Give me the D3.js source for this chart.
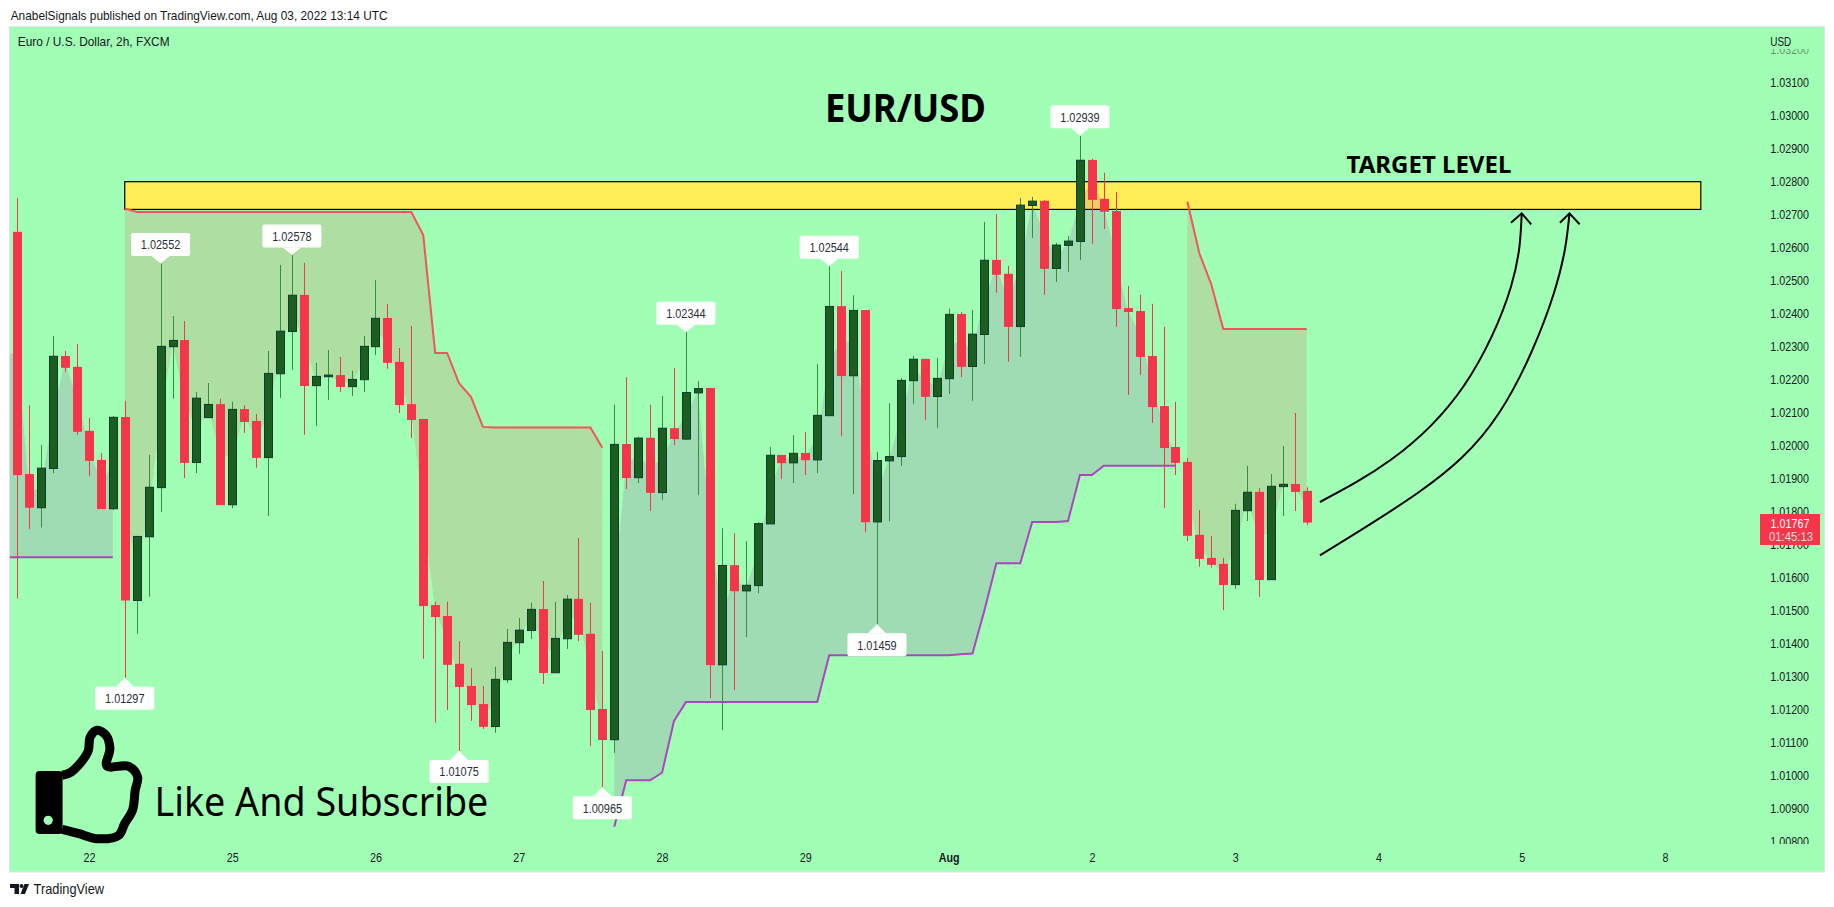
<!DOCTYPE html>
<html>
<head>
<meta charset="utf-8">
<script src="https://cdn.jsdelivr.net/npm/d3@7/dist/d3.min.js"></script>
<style>
html,body{margin:0;padding:0;background:#fff;overflow:hidden}
svg{display:block}
text{font-family:"Liberation Sans",Arial,sans-serif}
</style>
</head>
<body>
<svg id="chart" width="1834" height="907"></svg>
<script>
// ---------- data ----------
const opens = [
1.02648,1.01914,1.01812,1.01931,1.02272,1.02239,1.02045,1.01957,1.01809,1.02087,
1.01531,1.01724,1.01873,1.02300,1.02320,1.01949,1.02085,1.02126,1.01821,1.02111,
1.02075,1.01964,1.02218,1.02346,1.02457,1.02182,1.02209,1.02214,1.02179,1.02200,
1.02300,1.02387,1.02254,1.02126,1.02081,1.01517,1.01484,1.01339,1.01272,1.01217,
1.01149,1.01291,1.01403,1.01440,1.01505,1.01312,1.01415,1.01536,1.01430,1.01202,
1.01109,1.02005,1.01903,1.02024,1.01858,1.02053,1.02020,1.02160,1.02175,1.01336,
1.01638,1.01560,1.01576,1.01763,1.01972,1.01948,1.01978,1.01957,1.02091,1.02423,
1.02212,1.02411,1.01769,1.01954,1.01967,1.02197,1.02263,1.02149,1.02203,1.02399,
1.02240,1.02337,1.02563,1.02521,1.02361,1.02728,1.02742,1.02537,1.02607,1.02619,
1.02866,1.02748,1.02711,1.02417,1.02408,1.02272,1.02120,1.01996,1.01951,1.01730,
1.01660,1.01642,1.01579,1.01803,1.01860,1.01594,1.01876,1.01884,1.01863];
const highs = [
1.02751,1.02123,1.02002,1.02333,1.02287,1.02308,1.02084,1.01978,1.02090,1.02136,
1.01725,1.01972,1.02552,1.02393,1.02378,1.02163,1.02190,1.02142,1.02133,1.02123,
1.02096,1.02287,1.02548,1.02578,1.02554,1.02251,1.02290,1.02269,1.02227,1.02333,
1.02502,1.02430,1.02296,1.02363,1.02081,1.01527,1.01527,1.01408,1.01326,1.01272,
1.01330,1.01445,1.01478,1.01524,1.01590,1.01527,1.01548,1.01720,1.01524,1.01378,
1.02124,1.02208,1.02027,1.02124,1.02151,1.02235,1.02344,1.02196,1.02175,1.01750,
1.01735,1.01711,1.01768,1.01996,1.01972,1.02032,1.02041,1.02247,1.02544,1.02529,
1.02456,1.02411,1.01981,1.02129,1.02205,1.02272,1.02263,1.02266,1.02415,1.02405,
1.02411,1.02678,1.02702,1.02545,1.02751,1.02754,1.02745,1.02615,1.02636,1.02939,
1.02869,1.02827,1.02769,1.02484,1.02457,1.02430,1.02360,1.02133,1.01963,1.01805,
1.01727,1.01660,1.01824,1.01939,1.01872,1.01914,1.01999,1.02099,1.01874];
const lows = [
1.01537,1.01748,1.01752,1.01917,1.02224,1.02033,1.01908,1.01808,1.01805,1.01297,
1.01430,1.01542,1.01799,1.02142,1.01902,1.01917,1.02085,1.01820,1.01811,1.02039,
1.01933,1.01787,1.02145,1.02230,1.02033,1.02060,1.02139,1.02163,1.02151,1.02163,
1.02275,1.02233,1.02099,1.02023,1.01354,1.01161,1.01199,1.01075,1.01166,1.01142,
1.01130,1.01281,1.01369,1.01414,1.01278,1.01312,1.01384,1.01408,1.01090,1.00965,
1.01069,1.01869,1.01887,1.01802,1.01836,1.02002,1.02017,1.01850,1.01235,1.01138,
1.01259,1.01420,1.01553,1.01763,1.01899,1.01887,1.01911,1.01917,1.02091,1.02029,
1.01853,1.01738,1.01459,1.01771,1.01939,1.02127,1.02078,1.02054,1.02157,1.02208,
1.02136,1.02248,1.02463,1.02254,1.02269,1.02630,1.02457,1.02496,1.02527,1.02563,
1.02612,1.02657,1.02360,1.02154,1.02214,1.02069,1.01811,1.01911,1.01711,1.01633,
1.01630,1.01502,1.01566,1.01772,1.01542,1.01594,1.01787,1.01802,1.01760];
const closes = [
1.01911,1.01812,1.01932,1.02271,1.02236,1.02042,1.01954,1.01808,1.02086,1.01531,
1.01725,1.01874,1.02301,1.02319,1.01948,1.02144,1.02125,1.01820,1.02110,1.02072,
1.01963,1.02219,1.02347,1.02456,1.02181,1.02210,1.02214,1.02178,1.02201,1.02301,
1.02386,1.02251,1.02123,1.02078,1.01514,1.01481,1.01336,1.01269,1.01214,1.01148,
1.01292,1.01404,1.01441,1.01504,1.01311,1.01416,1.01535,1.01427,1.01199,1.01108,
1.02004,1.01902,1.02023,1.01857,1.02053,1.02020,1.02161,1.02173,1.01335,1.01637,
1.01559,1.01577,1.01764,1.01971,1.01947,1.01977,1.01956,1.02092,1.02422,1.02211,
1.02410,1.01768,1.01955,1.01967,1.02198,1.02262,1.02148,1.02204,1.02398,1.02239,
1.02338,1.02562,1.02518,1.02360,1.02729,1.02741,1.02536,1.02608,1.02620,1.02865,
1.02745,1.02709,1.02414,1.02405,1.02269,1.02117,1.01993,1.01948,1.01727,1.01657,
1.01639,1.01578,1.01804,1.01859,1.01593,1.01877,1.01883,1.01860,1.01767];

// trailing-stop indicator: one list per stretch, first bar index beside it
const purpleStartA = -1;
const purpleLevelsA = [1.01662,1.01662,1.01662,1.01662,1.01662,1.01662,1.01662,1.01662,1.01662,1.01662];
const redStartA = 9;
const redLevelsA = [1.02719,
1.02708,1.02708,1.02708,1.02708,1.02708,1.02708,1.02708,1.02708,1.02708,1.02708,1.02708,1.02708,
1.02708,1.02708,1.02708,1.02708,1.02708,1.02708,1.02708,1.02708,1.02708,1.02708,1.02708,1.02708,
1.02638,1.02281,1.02281,1.02189,1.02148,1.02057,
1.02055,1.02055,1.02055,1.02055,1.02055,1.02055,1.02055,1.02055,1.02055,1.01994];
const purpleStartB = 50;
const purpleLevelsB = [1.00845,1.00986,1.00986,1.00986,1.01009,1.01166,
1.01223,1.01223,1.01223,1.01223,1.01223,1.01223,1.01223,1.01223,1.01223,1.01223,1.01223,1.01223,
1.01365,1.01365,1.01365,1.01365,1.01365,1.01365,1.01365,1.01365,1.01365,1.01365,1.01365,
1.01368,1.01370,1.01501,1.01644,1.01644,1.01644,1.01769,1.01769,1.01769,1.01772,1.01911,1.01911,
1.01939,1.01939,1.01939,1.01939,1.01939,1.01939,1.01939];
const redStartB = 98;
const redLevelsB = [1.02739,1.02583,1.02489,1.02354,1.02354,1.02354,1.02354,1.02354,1.02354,1.02354,1.02354];

// price callouts: bar indices that carry a label
const highCallouts = [12,23,56,68,89];
const lowCallouts = [9,37,49,72];

// x axis
const dayTickBars = [6,18,30,42,54,66,78,90,102,114,126,138];
const dayLabels = ["22","25","26","27","28","29","Aug","2","3","4","5","8"];
// y axis
const priceTicks = [1.032,1.031,1.030,1.029,1.028,1.027,1.026,1.025,1.024,1.023,1.022,1.021,1.020,
1.019,1.018,1.017,1.016,1.015,1.014,1.013,1.012,1.011,1.010,1.009,1.008];

// target zone and hand-drawn arrows, [bar index, price]
const targetZone = {fromBar:9,toBar:141,top:1.0280,bottom:1.02716};
const arrowOne = [[109.1,1.018294],[115.1,1.019588],[121.1,1.021788],[125.1,1.024818],[126.0,1.027042]];
const arrowOneHead = [[125.1,1.026758],[126.0,1.027042],[126.8,1.026709]];
const arrowTwo = [[109.1,1.016679],[117.4,1.018597],[124.1,1.020991],[128.7,1.024627],[130.0,1.027042]];
const arrowTwoHead = [[129.2,1.026758],[130.0,1.027042],[130.85,1.026709]];

// ---------- scales ----------
const x = d3.scaleLinear().domain([0,108]).range([17.3,1306.8]);
const y = d3.scaleLinear().domain([1.008,1.032]).range([841.7,49.7]);

const UP_BODY="#1B5E20", UP_EDGE="#0D3B2E", UP_WICK="#388E3C", DOWN="#F5364A";
const svg = d3.select("#chart");

function fitted(parent,str,px,py,size,width,opt={}){
  const t = parent.append("text").text(str)
    .attr("font-size",size)
    .attr("font-weight",opt.weight||400)
    .attr("fill",opt.fill||"#131722")
    .attr("text-anchor",opt.anchor||"start");
  if(opt.family) t.style("font-family",opt.family);
  if(opt.opacity) t.attr("opacity",opt.opacity);
  const sx = width/t.node().getComputedTextLength();
  t.attr("transform",`translate(${px},${py}) scale(${sx},1)`);
  return t;
}

// ---------- frame ----------
const defs = svg.append("defs");
defs.append("clipPath").attr("id","plot").append("rect").attr("x",10).attr("y",27).attr("width",1750).attr("height",845);
defs.append("clipPath").attr("id","scale").append("rect").attr("x",1740).attr("y",49).attr("width",90).attr("height",795);

svg.append("rect").attr("x",9.5).attr("y",26.5).attr("width",1815).attr("height",845.5)
  .attr("fill","#A0FFB4").attr("stroke","#E0E3EB");

const plot = svg.append("g").attr("clip-path","url(#plot)");

// target zone
plot.append("rect")
  .attr("x",x(targetZone.fromBar)).attr("y",y(targetZone.top))
  .attr("width",x(targetZone.toBar)-x(targetZone.fromBar))
  .attr("height",y(targetZone.bottom)-y(targetZone.top))
  .attr("fill","#FFEE58").attr("stroke","#000").attr("stroke-width",1.2);

// indicator fills and lines
const stretches = [
  {start:purpleStartA,levels:purpleLevelsA,line:"#AB47BC",fill:"rgba(156,39,176,0.16)"},
  {start:redStartA,levels:redLevelsA,line:"#F5545A",fill:"rgba(242,54,69,0.16)"},
  {start:purpleStartB,levels:purpleLevelsB,line:"#AB47BC",fill:"rgba(156,39,176,0.16)"},
  {start:redStartB,levels:redLevelsB,line:"#F5545A",fill:"rgba(242,54,69,0.16)"}
];
const midAt = i => { const k = Math.max(i,0); return (opens[k]+closes[k])/2; };
stretches.forEach(s=>{
  const pts = s.levels.map((v,n)=>({i:s.start+n,v}));
  plot.append("path")
    .attr("d",d3.area().x(d=>x(d.i)).y0(d=>y(d.v)).y1(d=>y(midAt(d.i)))(pts))
    .attr("fill",s.fill);
  plot.append("path")
    .attr("d",d3.line().x(d=>x(d.i)).y(d=>y(d.v))(pts))
    .attr("fill","none").attr("stroke",s.line).attr("stroke-width",2);
});

// candles
const bars = d3.range(opens.length);
const isUp = i => closes[i]>=opens[i];
plot.append("g").selectAll("line").data(bars).join("line")
  .attr("x1",i=>Math.round(x(i))+0.5).attr("x2",i=>Math.round(x(i))+0.5)
  .attr("y1",i=>y(highs[i])).attr("y2",i=>y(lows[i]))
  .attr("stroke",i=>isUp(i)?UP_WICK:DOWN).attr("stroke-width",1);
plot.append("g").selectAll("rect").data(bars).join("rect")
  .attr("x",i=>Math.round(x(i))-4+(isUp(i)?0.5:0))
  .attr("width",i=>isUp(i)?8:9)
  .attr("y",i=>y(Math.max(opens[i],closes[i])))
  .attr("height",i=>Math.max(1,y(Math.min(opens[i],closes[i]))-y(Math.max(opens[i],closes[i]))))
  .attr("fill",i=>isUp(i)?UP_BODY:DOWN)
  .attr("stroke",i=>isUp(i)?UP_EDGE:"none").attr("stroke-width",1);

// arrows
const arrowLine = d3.line().x(d=>x(d[0])).y(d=>y(d[1]));
[[arrowOne,d3.curveNatural],[arrowTwo,d3.curveNatural],[arrowOneHead,d3.curveLinear],[arrowTwoHead,d3.curveLinear]]
  .forEach(([pts,c])=>plot.append("path").attr("d",arrowLine.curve(c)(pts))
    .attr("fill","none").attr("stroke","#000").attr("stroke-width",2));

// callouts
const BOX_W=59, BOX_H=23, GAP_HIGH=7.5, GAP_LOW=9, PTR=9;
function callout(i,price,above){
  const cx=x(i), tip=y(price);
  const g=svg.append("g");
  const top = above ? tip-GAP_HIGH-BOX_H : tip+GAP_LOW;
  g.append("rect").attr("x",cx-BOX_W/2).attr("y",top).attr("width",BOX_W).attr("height",BOX_H).attr("rx",2).attr("fill","#fff");
  const edge = above ? top+BOX_H : top;
  g.append("path").attr("d",`M${cx-PTR},${edge}L${cx},${tip}L${cx+PTR},${edge}Z`).attr("fill","#fff");
  fitted(g,price.toFixed(5),cx,top+BOX_H/2+4.8,13.5,39.5,{anchor:"middle",fill:"#2A2E39"});
}
highCallouts.forEach(i=>callout(i,highs[i],true));
lowCallouts.forEach(i=>callout(i,lows[i],false));

// axes
const axisY = svg.append("g").attr("clip-path","url(#scale)").append("g")
  .attr("transform","translate(1770.3,0)")
  .call(d3.axisRight(y).tickValues(priceTicks).tickSize(0).tickPadding(0).tickFormat(d=>d.toFixed(5)));
axisY.select(".domain").remove();
axisY.selectAll("text").attr("font-size",13).attr("fill","#131722").style("font-family",'"Liberation Sans",Arial,sans-serif')
  .attr("opacity",d=>d===1.032?0.45:1)
  .attr("transform","scale(0.825,1)");

const axisX = svg.append("g").attr("transform","translate(0,853)")
  .call(d3.axisBottom(x).tickValues(dayTickBars).tickSize(0).tickPadding(0).tickFormat((d,i)=>dayLabels[i]));
axisX.select(".domain").remove();
axisX.selectAll("text").attr("font-size",13).attr("fill","#131722").style("font-family",'"Liberation Sans",Arial,sans-serif')
  .attr("font-weight",(d,i)=>dayLabels[i]==="Aug"?700:400)
  .attr("transform","scale(0.825,1)");

// last price badge
svg.append("rect").attr("x",1760).attr("y",514).attr("width",60).attr("height",31).attr("fill","#F5364A");
fitted(svg,closes[closes.length-1].toFixed(5),1790,527.5,13.5,39,{anchor:"middle",fill:"#fff"});
fitted(svg,"01:45:13",1791,541,13,44,{anchor:"middle",fill:"#fff",opacity:0.8});

// texts
fitted(svg,"USD",1770.3,45.5,13,21,{});
fitted(svg,"AnabelSignals published on TradingView.com, Aug 03, 2022 13:14 UTC",10.7,19.5,13,377,{});
fitted(svg,"Euro / U.S. Dollar, 2h, FXCM",17.8,46.2,13,152,{});
const head = '"Noto Sans",sans-serif';
fitted(svg,"EUR/USD",825,121.7,39,161,{weight:700,fill:"#000",family:head});
fitted(svg,"TARGET LEVEL",1346.5,172.7,24,165,{weight:700,fill:"#000",family:head});
fitted(svg,"Like And Subscribe",154.5,816.3,40,334,{fill:"#000",family:head});
fitted(svg,"TradingView",33.6,894,14,70.5,{fill:"#131722"});

// thumb icon
const thumbOutline=[[62.1,775.3],[71.2,772],[87.8,752],[90.2,737],[96.9,730.3],[106,735.3],[109.9,748.7],[106.8,766],[128.5,766.3],[137.6,777],[135.2,790.3],[132.5,810.3],[124.6,823.7],[118.6,835.3],[96.9,838.7],[79.1,833.7],[62.1,829.3]];
const thumb=svg.append("g");
thumb.append("path").attr("d",d3.line().curve(d3.curveCatmullRom)(thumbOutline))
  .attr("fill","none").attr("stroke","#000").attr("stroke-width",9).attr("stroke-linejoin","round");
thumb.append("rect").attr("x",35.6).attr("y",771).attr("width",27).attr("height",63).attr("rx",4).attr("fill","#000");
thumb.append("circle").attr("cx",48.2).attr("cy",820.3).attr("r",4.6).attr("fill","#A0FFB4");

// TradingView mark
const mark=svg.append("g").attr("fill","#131722");
mark.append("path").attr("d","M10,884H19V894H14.5V888H10Z");
mark.append("circle").attr("cx",21.5).attr("cy",886).attr("r",2);
mark.append("path").attr("d","M24.5,884H29L25,894H20.5Z");
</script>
</body>
</html>
